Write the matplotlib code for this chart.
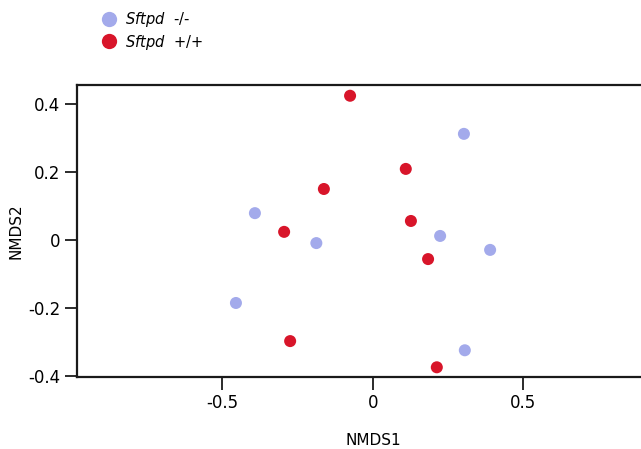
import matplotlib.pyplot as plt
from matplotlib.lines import Line2D

# NMDS coordinates
ko_x = [0.303, -0.391, -0.187, 0.224, 0.390, -0.454, 0.306]
ko_y = [0.312, 0.079, -0.009, 0.012, -0.029, -0.185, -0.324]
wt_x = [-0.075, 0.110, -0.162, -0.294, 0.127, 0.184, -0.274, 0.213]
wt_y = [0.424, 0.209, 0.150, 0.024, 0.056, -0.056, -0.297, -0.374]

x_ticks = [-0.5, 0, 0.5]
x_labels = ["-0.5", "0", "0.5"]
y_ticks = [-0.4, -0.2, 0, 0.2, 0.4]
y_labels = ["-0.4", "-0.2", "0", "0.2", "0.4"]

ko_color = "#a3aaeb"
wt_color = "#d8152a"

fig = plt.figure(figsize=(6.41, 4.49), dpi=100)
ax = fig.add_axes([0.120, 0.160, 0.880, 0.651])

ax.scatter(ko_x, ko_y, s=75, color=ko_color, edgecolors="none", zorder=3)
ax.scatter(wt_x, wt_y, s=75, color=wt_color, edgecolors="none", zorder=3)

ax.set_xlim(-0.982, 0.891)
ax.set_ylim(-0.403, 0.456)
ax.set_xticks(x_ticks)
ax.set_xticklabels(x_labels)
ax.set_yticks(y_ticks)
ax.set_yticklabels(y_labels)

for side in ["left", "bottom", "top"]:
    ax.spines[side].set_linewidth(1.6)
    ax.spines[side].set_color("#1a1a1a")
ax.spines["right"].set_visible(False)

ax.tick_params(axis="both", direction="out", length=9, width=1.3,
               labelsize=12, pad=3, color="#1a1a1a")

ax.set_xlabel("NMDS1", fontsize=11)
ax.set_ylabel("NMDS2", fontsize=11)
ax.xaxis.set_label_coords(0.525, -0.19)
ax.yaxis.set_label_coords(-0.095, 0.5)

# legend above the axes
handles = [
    Line2D([], [], marker="o", linestyle="none", markersize=11,
           markerfacecolor=ko_color, markeredgecolor="none",
           label=r"$\it{Sftpd}$  -/-"),
    Line2D([], [], marker="o", linestyle="none", markersize=11,
           markerfacecolor=wt_color, markeredgecolor="none",
           label=r"$\it{Sftpd}$  +/+"),
]
fig.legend(handles=handles, loc="upper left", bbox_to_anchor=(0.148, 0.99),
           frameon=False, fontsize=10.5, handletextpad=0.45,
           labelspacing=0.22, handlelength=1.2, borderaxespad=0)

fig.savefig("out.png", dpi=100)
